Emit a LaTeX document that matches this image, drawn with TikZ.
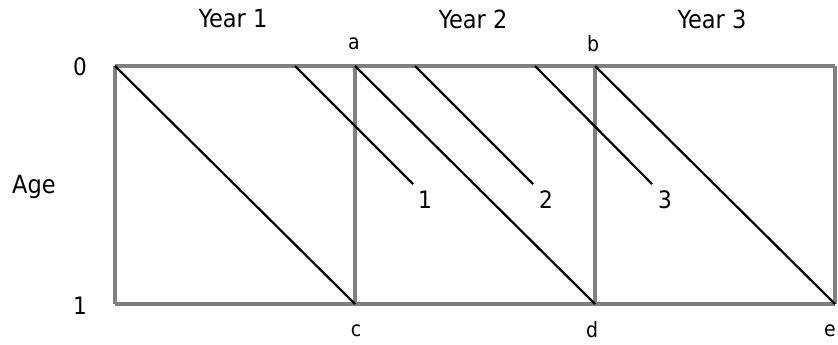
\documentclass[tikz,border=0pt]{standalone}
\usepackage{fontspec}
\setmainfont{DejaVu Sans Condensed}
\begin{document}
\begin{tikzpicture}[x=1pt,y=-1pt,
  frame/.style={line width=3.5pt, color={rgb,255:red,128;green,128;blue,128}},
  cohort/.style={draw=black, line width=2.2pt},
  lbl/.style={font=\fontsize{25}{25}\selectfont, inner sep=0pt},
  pt/.style={font=\fontsize{21}{21}\selectfont, inner sep=0pt},
  num/.style={font=\fontsize{24}{24}\selectfont, inner sep=0pt}]
\useasboundingbox (0,0) rectangle (838,345);
% corners
\coordinate (tl) at (115,66);
\coordinate (ta) at (355,66);
\coordinate (tb) at (595,66);
\coordinate (tr) at (835,66);
\coordinate (bl) at (115,304);
\coordinate (bc) at (355,304);
\coordinate (bd) at (595,304);
\coordinate (br) at (835,304);
% frame
\draw[frame] (tl) -- (tr) (bl) -- (br) (tl) -- (bl) (ta) -- (bc) (tb) -- (bd) (tr) -- (br);
% full-year diagonals
\draw[cohort] (tl) -- (bc);
\draw[cohort] (ta) -- (bd);
\draw[cohort] (tb) -- (br);
% partial cohort lines
\coordinate (s1) at (295,66); \coordinate (e1) at (413,184);
\coordinate (s2) at (415,66); \coordinate (e2) at (533,184);
\coordinate (s3) at (535,66); \coordinate (e3) at (652,184);
\draw[cohort] (s1) -- (e1);
\draw[cohort] (s2) -- (e2);
\draw[cohort] (s3) -- (e3);
% labels
\node[num] (n1) at (425,200) {1};
\node[num] (n2) at (546,200) {2};
\node[num] (n3) at (665,200) {3};
\node[lbl] (y1) at (233,19) {Year 1};
\node[lbl] (y2) at (473,19) {Year 2};
\node[lbl] (y3) at (712,19) {Year 3};
\node[pt] (la) at (354,44) {a};
\node[pt] (lb) at (593,44) {b};
\node[pt] (lc) at (356,331) {c};
\node[pt] (ld) at (592,330) {d};
\node[pt] (le) at (830,331) {e};
\node[num] (a0) at (80,67) {0};
\node[num] (a1) at (80,306) {1};
\node[lbl] (age) at (34,187) {Age};
\end{tikzpicture}
\end{document}
